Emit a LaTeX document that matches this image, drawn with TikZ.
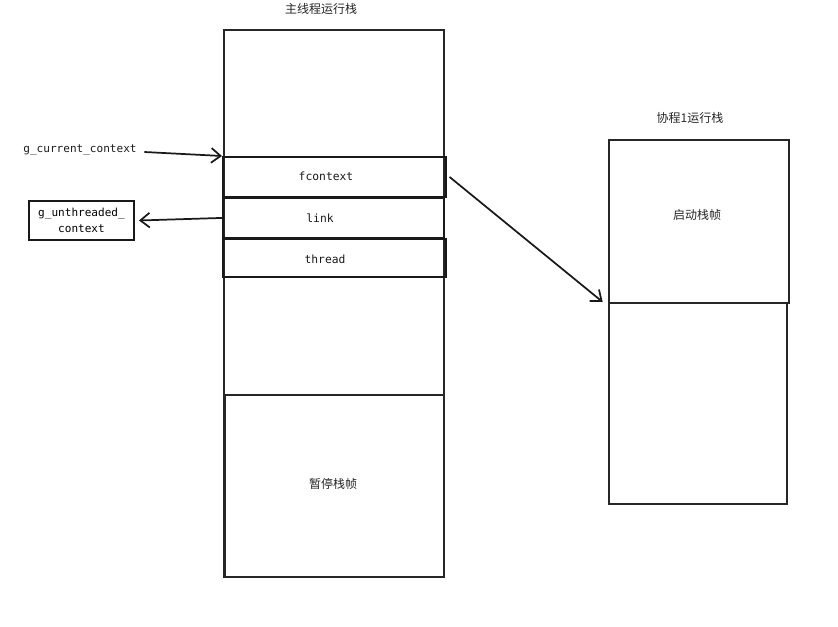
\documentclass[tikz,border=0pt]{standalone}
\usepackage{fontspec}
\setmonofont{DejaVu Sans Mono}
\newfontfamily\cjk{Noto Sans CJK SC}
\usetikzlibrary{arrows.meta,positioning}

\begin{document}
\begin{tikzpicture}[x=0.75pt, y=-0.75pt, >={Straight Barb[length=7pt,width=11pt]}]

% --- Styles ---
\tikzset{
    stackbox/.style={draw=black!85, line width=1.4pt, inner sep=0pt, anchor=north west},
    slot/.style={draw=black!90, line width=1.4pt, inner sep=0pt, anchor=north west},
    slottext/.style={font=\ttfamily\fontsize{8.5}{10}\selectfont, text=black!90},
    title/.style={font=\cjk\fontsize{9}{11}\selectfont, text=black!85},
    cjklabel/.style={font=\cjk\fontsize{9}{11}\selectfont, text=black!85},
    varname/.style={font=\ttfamily\fontsize{8.3}{10}\selectfont, text=black!90},
    varbox/.style={draw=black!90, line width=1.4pt, inner sep=0pt, align=center, font=\ttfamily\fontsize{8.3}{12}\selectfont},
    arrow/.style={->, line width=1.3pt, draw=black!90}
}

\useasboundingbox (0,0) rectangle (838,627);

% --- Main thread stack ---
\node[title] (maintitle) at (321,9) {主线程运行栈};
\node[stackbox, minimum width=220*0.75pt, minimum height=547*0.75pt] (mainstack) at (223,29) {};

% slots of the current context
\node[slot, minimum width=223*0.75pt, minimum height=40*0.75pt] (fctx) at (222,156) {};
\node[slot, minimum width=221*0.75pt, minimum height=40*0.75pt] (link) at (222,197) {};
\node[slot, minimum width=223*0.75pt, minimum height=38*0.75pt] (thread) at (222,238) {};
\node[slottext] at (326,176) {fcontext};
\node[slottext] at (320,218) {link};
\node[slottext] at (325,259) {thread};

\node[stackbox, minimum width=219*0.75pt, minimum height=182*0.75pt] (pause) at (224,394) {};
\node[cjklabel] at (333,484) {暂停栈帧};

% --- Coroutine 1 stack ---
\node[title] (cotitle) at (690,118) {协程1运行栈};
\node[stackbox, minimum width=180*0.75pt, minimum height=163*0.75pt] (startframe) at (608,139) {};
\node[cjklabel] at (697,215) {启动栈帧};
\node[stackbox, minimum width=178*0.75pt, minimum height=201*0.75pt] (colower) at (608,302) {};

% --- Globals ---
\node[varname] (gcur) at (80,150) {g\_current\_context};
\node[varbox, minimum width=105*0.75pt, minimum height=39*0.75pt] (gunth) at (81.5,220.5) {g\_unthreaded\_\\context};

% --- Arrows ---
\draw[arrow] (gcur.east) ++(3,2) -- (fctx.north west);
\draw[arrow] (link.west) -- ([xshift=3pt]gunth.east);
\draw[arrow] ([xshift=2pt]fctx.east) -- ([xshift=-4pt]colower.north west);

\end{tikzpicture}
\end{document}
